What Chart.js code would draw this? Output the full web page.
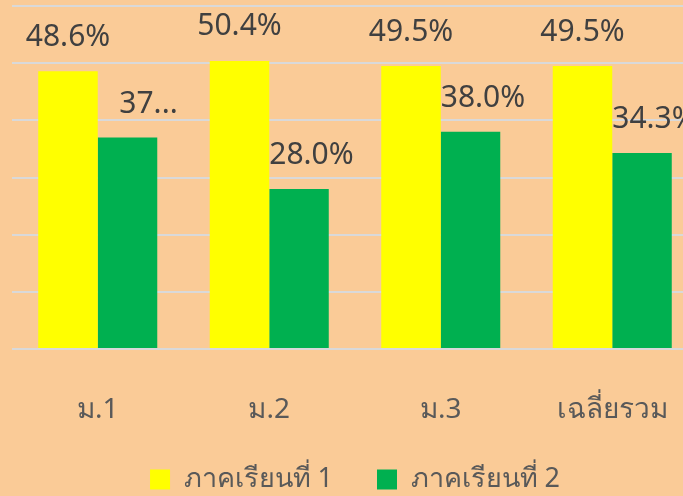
<!doctype html>
<html>
<head>
<meta charset="utf-8">
<script src="https://cdn.jsdelivr.net/npm/chart.js"></script>
<style>
  html, body { margin: 0; padding: 0; background: #FACB97; overflow: hidden; }
  #wrap { width: 710px; height: 503px; }
</style>
</head>
<body>
<div id="wrap"><canvas id="myChart"></canvas></div>
<script>
    const categories = ['ม.1', 'ม.2', 'ม.3', 'เฉลี่ยรวม'];
    const seriesNames = ['ภาคเรียนที่ 1', 'ภาคเรียนที่ 2'];
    const term1 = [48.6, 50.4, 49.5, 49.5];
    const term2 = [37.0, 28.0, 38.0, 34.3];
    // the first label of term 2 is cut short in the original
    const term1Labels = ['48.6%', '50.4%', '49.5%', '49.5%'];
    const term2Labels = ['37...', '28.0%', '38.0%', '34.3%'];
    const yTicks = [0, 10, 20, 30, 40, 50, 60];

    const fontFamily = "'Noto Sans', 'DejaVu Sans', sans-serif";

    const valueLabels = {
        id: 'valueLabels',
        afterDatasetsDraw(chart) {
            const c = chart.ctx;
            const texts = [term1Labels, term2Labels];
            c.save();
            c.font = '30px ' + fontFamily;
            c.fillStyle = '#404040';
            c.textBaseline = 'middle';
            chart.data.datasets.forEach((ds, i) => {
                chart.getDatasetMeta(i).data.forEach((bar, j) => {
                    const t = texts[i][j];
                    if (i === 0) {
                        c.textAlign = 'center';
                        c.fillText(t, bar.x, bar.y - 34);
                    } else if (t.endsWith('...')) {
                        c.textAlign = 'center';
                        c.fillText(t, bar.x + 21, bar.y - 33);
                    } else {
                        c.textAlign = 'left';
                        c.fillText(t, bar.x - bar.width / 2, bar.y - 33);
                    }
                });
            });
            c.restore();
        }
    };

    new Chart(document.getElementById('myChart'), {
        type: 'bar',
        data: {
            labels: categories,
            datasets: [{
                label: seriesNames[0],
                data: term1,
                backgroundColor: '#FFFF00',
                categoryPercentage: 0.694,
                barPercentage: 1.0
            }, {
                label: seriesNames[1],
                data: term2,
                backgroundColor: '#00B050',
                categoryPercentage: 0.694,
                barPercentage: 1.0
            }]
        },
        options: {
            responsive: true,
            maintainAspectRatio: false,
            animation: false,
            layout: { padding: { left: 12, right: 12, top: 6, bottom: 0 } },
            scales: {
                x: {
                    grid: { display: false },
                    border: { display: false },
                    ticks: {
                        color: '#595959',
                        font: { family: fontFamily, size: 28 },
                        padding: 36
                    },
                    afterFit: s => { s.height = 73; }
                },
                y: {
                    min: 0,
                    max: 60,
                    afterBuildTicks: s => { s.ticks = yTicks.map(v => ({ value: v })); },
                    grid: { color: '#D9D9D9', lineWidth: 2, drawTicks: false },
                    border: { display: false },
                    ticks: { display: false }
                }
            },
            plugins: {
                legend: {
                    position: 'bottom',
                    labels: {
                        color: '#595959',
                        font: { family: fontFamily, size: 27 },
                        boxWidth: 20,
                        boxHeight: 20,
                        padding: 44
                    }
                },
                tooltip: { enabled: false }
            }
        },
        plugins: [valueLabels]
    });
</script>
</body>
</html>
